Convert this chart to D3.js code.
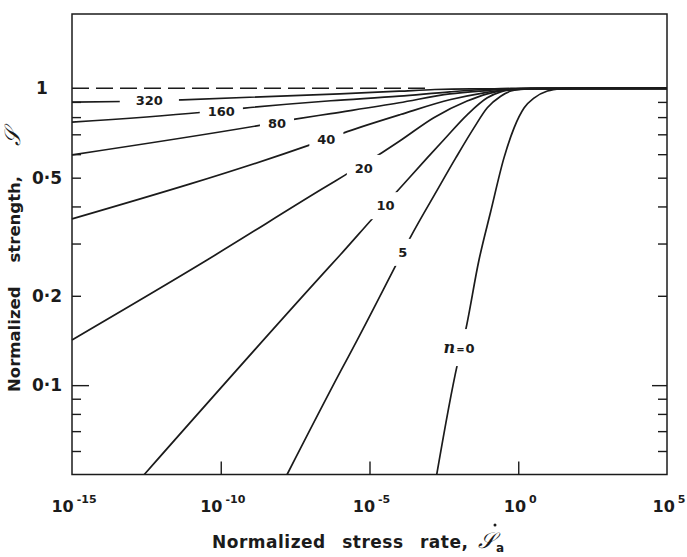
<!DOCTYPE html>
<html>
<head>
<meta charset="utf-8">
<script src="https://cdn.jsdelivr.net/npm/d3@7"></script>
<style>
  body { margin: 0; background: #fff; }
  svg { display: block; font-family: "DejaVu Sans", sans-serif; font-weight: bold; }
</style>
</head>
<body>
<svg id="chart" width="687" height="557"></svg>
<script>
/* ═══ Normalized strength vs normalized stress rate (log–log) ═══ */

const rate320 = [-15, -13.3, -11.3, -6, -4, -2.8, -1.6, 5];
const str320  = [0.899, 0.903, 0.915, 0.958, 0.978, 0.991, 0.996, 1];

const rate160 = [-15, -10.7, -9.2, -6.3, -4, -2.3, -1.15, -0.25, 5];
const str160  = [0.769, 0.829, 0.858, 0.908, 0.941, 0.973, 0.991, 0.999, 1];

const rate80 = [-15, -8.6, -7.5, -6.3, -4, -2.3, -1.05, -0.25, 5];
const str80  = [0.597, 0.753, 0.787, 0.822, 0.894, 0.958, 0.983, 0.996, 1];

const rate40 = [-15, -7, -5.75, -3.96, -2.27, -1.15, -0.36, 0.42, 5];
const str40  = [0.363, 0.645, 0.715, 0.816, 0.917, 0.966, 0.991, 0.999, 1];

const rate20 = [-15, -10.46, -6.64, -5.81, -4.57, -3.96, -2.84, -1.72, -1.04, -0.36, 0.42, 5];
const str20  = [0.142, 0.264, 0.455, 0.511, 0.608, 0.667, 0.796, 0.906, 0.958, 0.988, 0.998, 1];

const rate10 = [-12.57, -6.65, -5.98, -4.86, -4.01, -3.06, -2.5, -1.71, -1.04, -0.59, -0.25, 0.42, 5];
const str10  = [0.05, 0.232, 0.275, 0.368, 0.457, 0.583, 0.671, 0.816, 0.929, 0.973, 0.988, 0.998, 1];

const rate5 = [-7.77, -5.98, -5.41, -4.09, -3.64, -2.72, -2.1, -1.49, -1.04, -0.59, -0.25, 0.08, 0.76, 5];
const str5  = [0.05, 0.111, 0.142, 0.256, 0.313, 0.455, 0.583, 0.736, 0.86, 0.941, 0.979, 0.991, 0.999, 1];

const rate0 = [-2.74, -2.05, -1.77, -1.32, -0.93, -0.48, -0.14, 0.2, 0.54, 0.98, 1.43, 1.94, 5];
const str0  = [0.05, 0.117, 0.153, 0.264, 0.383, 0.583, 0.736, 0.86, 0.929, 0.979, 0.996, 1, 1];

// curve labels (n) and where they sit on each curve
const nValues    = [320, 160, 80, 40, 20, 10, 5, 0];
const labelRate  = [-12.4, -9.98, -8.11, -6.45, -5.19, -4.46, -3.88, -1.99];
const labelStr   = [0.910, 0.835, 0.763, 0.673, 0.538, 0.403, 0.2805, 0.133];

// dashed reference S = 1
const dashRate = [-15, -3];
const dashStr  = [1, 1];

// axes
const xTickExp   = [-15, -10, -5, 0, 5];
const yLabelVals = [1, 0.5, 0.2, 0.1];
const yLabelText = ['1', '0\u00b75', '0\u00b72', '0\u00b71'];
const yMinorVals = [0.06, 0.07, 0.08, 0.09, 0.2, 0.3, 0.4, 0.5, 0.6, 0.7, 0.8, 0.9];
const yMajorVals = [0.1];

const rates = [rate320, rate160, rate80, rate40, rate20, rate10, rate5, rate0];
const strs  = [str320, str160, str80, str40, str20, str10, str5, str0];

const W = 687, H = 557;
const M = { left: 72, right: 20, top: 14, bottom: 82.5 };
const INK = '#1b1b1b';
const SCRIPT_S = '\ud835\udcae';

const svg = d3.select('#chart');

const x = d3.scaleLog().domain([1e-15, 1e5]).range([M.left, W - M.right]);
const y = d3.scaleLog().domain([0.05, 1.78]).range([H - M.bottom, M.top]);

const series = nValues.map((n, i) => ({
  n,
  pts: rates[i].map((r, j) => [Math.pow(10, r), strs[i][j]]),
  lx: Math.pow(10, labelRate[i]),
  ly: labelStr[i]
}));

const line = d3.line()
  .x(d => x(d[0])).y(d => y(d[1]))
  .curve(d3.curveMonotoneX);

const defs = svg.append('defs');

// ── Curve labels first (measured, so each curve gets its own gap) ──
const labelG = svg.append('g')
  .attr('fill', INK).attr('font-size', '13px');

series.forEach((s, i) => {
  const t = labelG.append('text')
    .attr('x', x(s.lx)).attr('y', y(s.ly))
    .attr('text-anchor', 'middle').attr('dy', '0.36em');
  if (s.n === 0) {
    t.append('tspan').attr('font-style', 'italic').attr('font-family', 'DejaVu Serif').attr('font-size', '16px').text('n');
    t.append('tspan').attr('font-size', '10px').attr('dx', 1).text('=');
    t.append('tspan').attr('dx', 1).text('0');
  } else {
    t.text(s.n);
  }
  const bb = t.node().getBBox();
  const mask = defs.append('mask').attr('id', 'gap' + i)
    .attr('maskUnits', 'userSpaceOnUse')
    .attr('x', 0).attr('y', 0).attr('width', W).attr('height', H);
  mask.append('rect').attr('width', W).attr('height', H).attr('fill', 'white');
  const padX = s.n === 320 ? 16 : 8;
  const padY = s.n === 0 ? 9 : 6;
  mask.append('rect')
    .attr('x', bb.x - padX).attr('y', bb.y - padY)
    .attr('width', bb.width + 2 * padX).attr('height', bb.height + 2 * padY)
    .attr('fill', 'black');
});

// ── Dashed S = 1 line ──
svg.append('path')
  .attr('d', line(dashRate.map((r, j) => [Math.pow(10, r), dashStr[j]])))
  .attr('fill', 'none').attr('stroke', INK)
  .attr('stroke-width', 1.5).attr('stroke-dasharray', '17,7');

// ── Curves ──
svg.append('g').selectAll('path').data(series).join('path')
  .attr('d', d => line(d.pts))
  .attr('mask', (d, i) => `url(#gap${i})`)
  .attr('fill', 'none').attr('stroke', INK)
  .attr('stroke-width', 1.7).attr('stroke-linejoin', 'round');

// ── Frame ──
svg.append('rect')
  .attr('x', M.left).attr('y', M.top)
  .attr('width', W - M.left - M.right).attr('height', H - M.top - M.bottom)
  .attr('fill', 'none').attr('stroke', INK).attr('stroke-width', 1.5);

// ── Ticks (inward) ──
function tickAxis(axis, tx, ty) {
  const g = svg.append('g').attr('transform', `translate(${tx},${ty})`).call(axis);
  g.select('.domain').remove();
  g.selectAll('line').attr('stroke', INK).attr('stroke-width', 1.4);
  g.selectAll('text').remove();
  return g;
}
tickAxis(d3.axisLeft(y).tickValues(yMinorVals).tickSize(-9), M.left, 0);
tickAxis(d3.axisLeft(y).tickValues(yMajorVals).tickSize(-17), M.left, 0);
tickAxis(d3.axisRight(y).tickValues(yMinorVals).tickSize(-9), W - M.right, 0);
tickAxis(d3.axisRight(y).tickValues(yMajorVals).tickSize(-15), W - M.right, 0);
tickAxis(d3.axisBottom(x).tickValues(xTickExp.slice(1, -1).map(e => Math.pow(10, e))).tickSize(-13), 0, H - M.bottom);

// ── Y tick labels ──
svg.append('g').selectAll('text').data(yLabelVals).join('text')
  .attr('x', (d, i) => i === 0 ? 36 : 32)
  .attr('y', d => y(d)).attr('dy', '0.36em')
  .attr('font-size', '17px').attr('fill', INK)
  .text((d, i) => yLabelText[i]);

// ── X tick labels 10^e ──
const xl = svg.append('g').selectAll('text').data(xTickExp).join('text')
  .attr('x', d => x(Math.pow(10, d)) + 2).attr('y', 512)
  .attr('text-anchor', 'middle').attr('font-size', '16px').attr('fill', INK);
xl.append('tspan').text('10');
xl.append('tspan').attr('font-size', '11px').attr('dy', -9).attr('dx', 3)
  .text(d => d < 0 ? '-' + Math.abs(d) : d);

// ── Axis titles ──
const xt = svg.append('text')
  .attr('x', 212).attr('y', 548)
  .attr('font-size', '17px').attr('fill', INK)
  .attr('letter-spacing', '0.5px').attr('word-spacing', '10px');
xt.append('tspan').text('Normalized stress rate,');
xt.append('tspan').attr('dx', 10).attr('font-family', 'DejaVu Serif').attr('font-style', 'italic')
  .attr('font-weight', 'normal').attr('font-size', '22px').text(SCRIPT_S);
xt.append('tspan').attr('font-size', '12px').attr('dy', 4).text('a');
// rate dot over the script S
svg.append('circle')
  .attr('cx', 495).attr('cy', 525).attr('r', 1.5).attr('fill', INK);

const yt = svg.append('text')
  .attr('transform', 'translate(20,392) rotate(-90)')
  .attr('font-size', '16.5px').attr('fill', INK);
yt.append('tspan').text('Normalized');
yt.append('tspan').attr('dx', 24).text('strength,');
yt.append('tspan').attr('dx', 30).attr('font-family', 'DejaVu Serif').attr('font-style', 'italic')
  .attr('font-weight', 'normal').attr('font-size', '22px').text(SCRIPT_S);
</script>
</body>
</html>
